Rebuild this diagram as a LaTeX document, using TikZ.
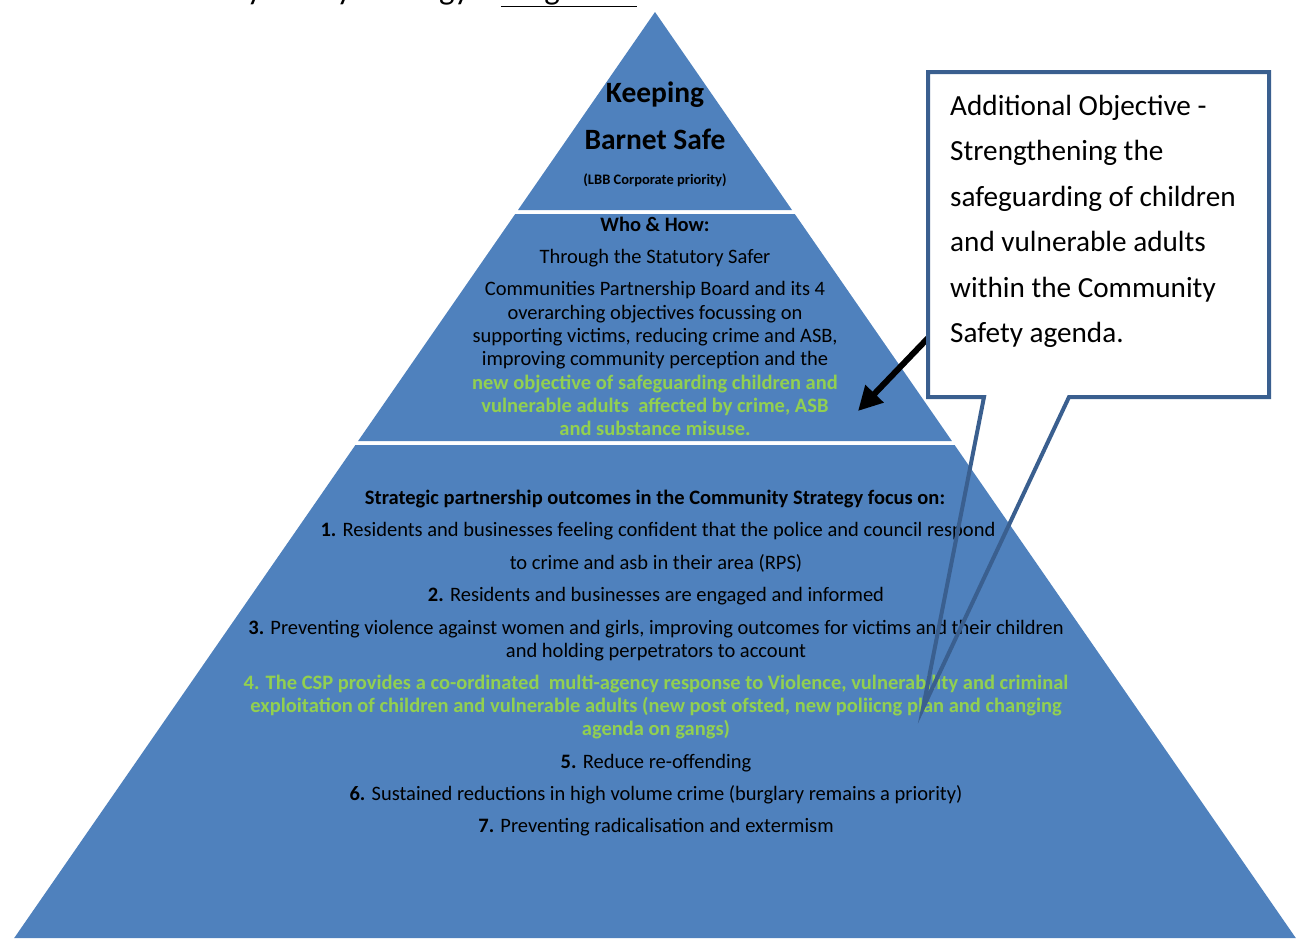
\documentclass[tikz,border=0pt]{standalone}
\usepackage{fontspec}
\setmainfont{Carlito}
\usetikzlibrary{arrows.meta}
\definecolor{pyrblue}{HTML}{4F81BD}
\definecolor{calloutblue}{HTML}{3A5F8F}
\definecolor{newgreen}{HTML}{92D050}

\begin{document}
\begin{tikzpicture}[x=1pt,y=-1pt,
    tier/.style={fill=pyrblue},
    txt/.style={anchor=base,inner sep=0pt,font=\fontsize{20.5}{24}\selectfont},
    txtbf/.style={txt,font=\fontsize{20.5}{24}\selectfont\bfseries},
    newobj/.style={txtbf,text=newgreen},
    big/.style={anchor=base,inner sep=0pt,font=\fontsize{29.5}{36}\selectfont\bfseries},
    note/.style={anchor=base west,inner sep=0pt,font=\fontsize{29.2}{36}\selectfont},
    calloutline/.style={draw=calloutblue,line width=4pt}]
    \useasboundingbox (0,0) rectangle (1308,938);

    % heading cut off at the top of the page
    \begin{scope}
      \clip (0,0) rectangle (1308,938);
      \node[anchor=base west,inner sep=0pt,font=\fontsize{33}{38}\selectfont] (title) at (106,-1)
        {Community Safety Strategy – \underline{Diagram 1}};
    \end{scope}

    % the three tiers of the pyramid
    \fill[tier] (655,12) -- (792,210) -- (518,210) -- cycle;
    \fill[tier] (515.2,214) -- (794.8,214) -- (951.9,441) -- (358.1,441) -- cycle;
    \fill[tier] (355.4,445) -- (954.6,445) -- (1295.8,938) -- (14.2,938) -- cycle;

    % top tier
    \node[big] (keeping) at (655,102) {Keeping};
    \node[big] (barnet) at (655,149) {Barnet Safe};
    \node[anchor=base,inner sep=0pt,font=\fontsize{14.5}{17}\selectfont\bfseries] (lbb) at (655,184) {(LBB Corporate priority)};

    % middle tier
    \node[txtbf] (who) at (655,231.5) {Who \& How:};
    \node[txt] (how1) at (655,263.5) {Through the Statutory Safer};
    \node[txt] (how2) at (655,295.5) {Communities Partnership Board and its 4};
    \node[txt] (how3) at (655,319.5) {overarching objectives focussing on};
    \node[txt] (how4) at (655,342.5) {supporting victims, reducing crime and ASB,};
    \node[txt] (how5) at (655,365.5) {improving community perception and the};
    \node[newobj] (how6) at (655,389.5) {new objective of safeguarding children and};
    \node[newobj] (how7) at (655,412.5) {vulnerable adults\ \ affected by crime, ASB};
    \node[newobj] (how8) at (655,435.5) {and substance misuse.};

    % bottom tier
    \node[txtbf] (outhead) at (655,504.5) {Strategic partnership outcomes in the Community Strategy focus on:};
    \node[txt] (out1) at (658,536.5) {\textbf{1.} Residents and businesses feeling confident that the police and council respond};
    \node[txt] (out1b) at (656,569.5) {to crime and asb in their area (RPS)};
    \node[txt] (out2) at (656,601.5) {\textbf{2.} Residents and businesses are engaged and informed};
    \node[txt] (out3) at (656,634.5) {\textbf{3.} Preventing violence against women and girls, improving outcomes for victims and their children};
    \node[txt] (out3b) at (656,657.5) {and holding perpetrators to account};
    \node[newobj] (out4) at (656,689.5) {4. The CSP provides a co-ordinated\ \ multi-agency response to Violence, vulnerability and criminal};
    \node[newobj] (out4b) at (656,712.5) {exploitation of children and vulnerable adults (new post ofsted, new poliicng plan and changing};
    \node[newobj] (out4c) at (656,735.5) {agenda on gangs)};
    \node[txt] (out5) at (656,768.5) {\textbf{5.} Reduce re-offending};
    \node[txt] (out6) at (656,800.5) {\textbf{6.} Sustained reductions in high volume crime (burglary remains a priority)};
    \node[txt] (out7) at (656,832.5) {\textbf{7.} Preventing radicalisation and extermism};

    % callout with the additional objective
    \coordinate (tail) at (928,338);
    \coordinate (head) at (858,411);
    \coordinate (tip) at (923,708);
    \draw[line width=6pt,-{Triangle[length=24pt,width=24pt]}] (tail) -- (head);
    \fill[white] (928,72) rectangle (1269,397);
    \draw[calloutline] (984,397) -- (928,397) -- (928,72) -- (1269,72) -- (1269,397)
      -- (1069,397) -- (tip) -- cycle;

    \node[note] (add1) at (950,115) {Additional Objective -};
    \node[note] (add2) at (950,160.5) {Strengthening the};
    \node[note] (add3) at (950,206) {safeguarding of children};
    \node[note] (add4) at (950,251.5) {and vulnerable adults};
    \node[note] (add5) at (950,297) {within the Community};
    \node[note] (add6) at (950,342.5) {Safety agenda.};
\end{tikzpicture}
\end{document}
